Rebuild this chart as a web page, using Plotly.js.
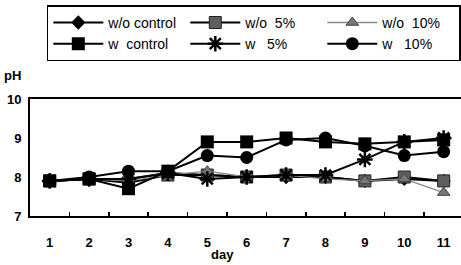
<!DOCTYPE html>
<html><head><meta charset="utf-8">
<script src="https://cdn.plot.ly/plotly-3.0.1.min.js"></script>
<style>html,body{margin:0;padding:0;background:#fff;overflow:hidden}</style>
</head><body><div id="chart" style="width:461px;height:265px"></div>
<script>
const days = ["1","2","3","4","5","6","7","8","9","10","11"];
const seriesNames = ["w/o control","w/o\u00a0\u00a05%","w/o\u00a0\u00a010%","w\u00a0\u00a0control","w\u00a0\u00a0\u00a05%","w\u00a0\u00a0\u00a010%"];
const woControl = [7.9, 7.95, 7.95, 8.1, 8.05, 8.0, 8.0, 8.0, 7.9, 7.95, 7.9];
const wo5 = [7.9, 7.95, 7.85, 8.05, 8.05, 8.0, 8.05, 8.0, 7.9, 8.0, 7.9];
const wo10 = [7.9, 7.95, 7.9, 8.05, 8.15, 8.0, 8.05, 7.95, 7.9, 7.95, 7.6];
const wControl = [7.9, 7.95, 7.7, 8.15, 8.9, 8.9, 9.0, 8.9, 8.85, 8.9, 8.95];
const w5 = [7.9, 7.95, 7.95, 8.1, 7.95, 8.0, 8.05, 8.05, 8.45, 8.9, 9.0];
const w10 = [7.9, 8.0, 8.15, 8.15, 8.55, 8.5, 8.95, 9.0, 8.8, 8.55, 8.65];
const yTicks = [7, 8, 9, 10];

const styles = [
  {sym:"diamond", size:11, color:"#000", lc:"#000", lw:2, mline:{width:0}},
  {sym:"square", size:12, color:"#5e5e5e", lc:"#000", lw:2, mline:{color:"#222", width:1}},
  {sym:"triangle-up", size:11, color:"#777", lc:"#888", lw:1.3, mline:{color:"#444", width:1}},
  {sym:"square", size:13, color:"#000", lc:"#000", lw:2, mline:{width:0}},
  {sym:"asterisk-open", size:13, color:"#000", lc:"#000", lw:2, mline:{color:"#000", width:2.5}},
  {sym:"circle", size:13, color:"#000", lc:"#000", lw:2, mline:{width:0}}
];
const allY = [woControl, wo5, wo10, wControl, w5, w10];
const traces = allY.map((ys, i) => ({
  x: days, y: ys, type: "scatter", mode: "lines+markers", name: seriesNames[i],
  line: {color: styles[i].lc, width: styles[i].lw},
  marker: {symbol: styles[i].sym, size: styles[i].size, color: styles[i].color, line: styles[i].mline}
}));

const fam = "Liberation Sans, Arial, sans-serif";
const font = {family: fam, size: 13, color: "#000"};
const boldFont = {family: fam, size: 13, color: "#000", weight: "bold"};
const layout = {
  width: 461, height: 265,
  margin: {l: 30, r: 0, t: 99, b: 49},
  paper_bgcolor: "#fff", plot_bgcolor: "#fff",
  font: font,
  showlegend: true,
  legend: {
    orientation: "h", x: 0.039, xanchor: "left", y: 1.80, yanchor: "top",
    itemwidth: 50, entrywidth: 72, entrywidthmode: "pixels",
    bordercolor: "#000", borderwidth: 1.5, bgcolor: "#fff",
    font: {family: fam, size: 14, color: "#000"},
    traceorder: "normal"
  },
  xaxis: {
    type: "category", range: [-0.5, 10.44], tickson: "boundaries",
    ticks: "inside", ticklen: 4, tickcolor: "#000", tickwidth: 1.5,
    showline: true, linecolor: "#000", linewidth: 2, mirror: true,
    showgrid: false, zeroline: false, ticklabelstandoff: 13,
    tickfont: boldFont
  },
  yaxis: {
    range: [7, 10], tickvals: yTicks, ticks: "", showline: true,
    linecolor: "#000", linewidth: 2, showgrid: false, zeroline: false,
    tickfont: boldFont, ticklabelstandoff: 4
  },
  annotations: [
    {text: "pH", xref: "paper", yref: "paper", x: -0.065, y: 1.205, xanchor: "left", yanchor: "middle", showarrow: false, font: boldFont},
    {text: "day", xref: "paper", yref: "paper", x: 0.446, y: -0.33, xanchor: "center", yanchor: "middle", showarrow: false, font: boldFont}
  ]
};
Plotly.newPlot("chart", traces, layout, {displayModeBar: false, staticPlot: true});
</script></body></html>
